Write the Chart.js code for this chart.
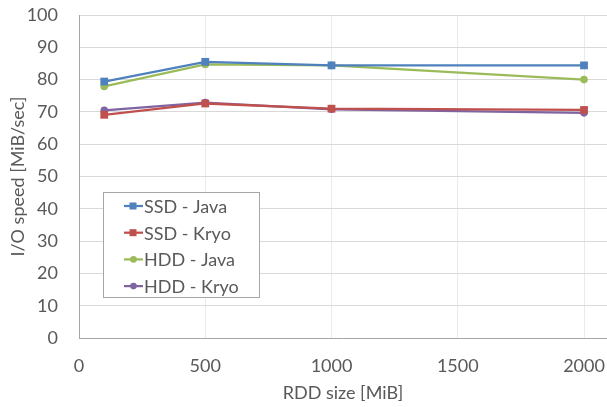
<!DOCTYPE html>
<html>
<head>
<meta charset="utf-8">
<script src="https://cdn.jsdelivr.net/npm/chart.js@4.4.1/dist/chart.umd.min.js"></script>
<style>
    html, body { margin: 0; padding: 0; background: #fff; }
    #wrap { width: 607px; height: 407px; }
</style>
</head>
<body>
<div id="wrap"><canvas id="chart"></canvas></div>
<script>
// RDD sizes (MiB) and measured I/O speeds (MiB/sec)
const rddSizes = [100, 500, 1000, 2000];
const ssdJava = [79.4, 85.5, 84.4, 84.4];
const ssdKryo = [69.1, 72.6, 71.0, 70.6];
const hddJava = [77.9, 84.7, 84.4, 80.0];
const hddKryo = [70.5, 72.9, 70.8, 69.7];
const seriesNames = ['SSD - Java', 'SSD - Kryo', 'HDD - Java', 'HDD - Kryo'];
const xTicks = [0, 500, 1000, 1500, 2000];

const FONT = 'Lato, "Open Sans", sans-serif';
const TEXT = '#595959';

const toPoints = (values) => values.map((v, i) => ({ x: rddSizes[i], y: v }));

const makeSet = (label, values, color, style) => ({
    label,
    data: toPoints(values),
    borderColor: color,
    backgroundColor: color,
    pointBackgroundColor: color,
    pointBorderColor: color,
    pointStyle: style,
    pointRadius: style === 'rect' ? 5.5 : 3.8,
    pointBorderWidth: 0,
    borderWidth: 2.25,
    tension: 0,
    fill: false,
    clip: false,
});

// Legend drawn inside the plot, like the boxed Excel legend
const insideLegend = {
    id: 'insideLegend',
    afterDraw: (chart) => {
        const ctx = chart.ctx;
        const x0 = 103, y0 = 192, w = 156, h = 105;
        ctx.save();
        ctx.fillStyle = '#fff';
        ctx.fillRect(x0, y0, w, h);
        ctx.strokeStyle = '#A6A6A6';
        ctx.lineWidth = 1;
        ctx.strokeRect(x0 + 0.5, y0 + 0.5, w, h);

        ctx.font = '18px ' + FONT;
        ctx.textBaseline = 'middle';
        ctx.textAlign = 'left';
        chart.data.datasets.forEach((ds, i) => {
            const y = 206 + i * 26.7;
            ctx.strokeStyle = ds.borderColor;
            ctx.lineWidth = 2.25;
            ctx.beginPath();
            ctx.moveTo(124, y);
            ctx.lineTo(143, y);
            ctx.stroke();
            ctx.fillStyle = ds.borderColor;
            if (ds.pointStyle === 'rect') {
                ctx.fillRect(129.5, y - 3.5, 7, 7);
            } else {
                ctx.beginPath();
                ctx.arc(133.5, y, 3.3, 0, Math.PI * 2);
                ctx.fill();
            }
            ctx.fillStyle = TEXT;
            ctx.fillText(ds.label, 144, y + 1);
        });
        ctx.restore();
    },
};

new Chart(document.getElementById('chart'), {
    type: 'line',
    data: {
        datasets: [
            makeSet(seriesNames[0], ssdJava, '#4F81BD', 'rect'),
            makeSet(seriesNames[1], ssdKryo, '#C0504D', 'rect'),
            makeSet(seriesNames[2], hddJava, '#9BBB59', 'circle'),
            makeSet(seriesNames[3], hddKryo, '#8064A2', 'circle'),
        ],
    },
    options: {
        responsive: true,
        maintainAspectRatio: false,
        animation: false,
        layout: {
            autoPadding: false,
            padding: { top: 15, right: 0, bottom: 0, left: 0 },
        },
        plugins: {
            legend: { display: false },
            tooltip: { enabled: false },
        },
        scales: {
            x: {
                type: 'linear',
                min: 0,
                max: 2091,
                afterBuildTicks: (scale) => {
                    scale.ticks = xTicks.map((v) => ({ value: v }));
                },
                afterFit: (scale) => {
                    scale.height = 69;
                    scale.paddingLeft = 0;
                    scale.paddingRight = 0;
                },
                grid: { color: '#EBEBEB', drawTicks: false, lineWidth: 1 },
                border: { color: '#A6A6A6', width: 1 },
                ticks: {
                    padding: 17,
                    color: TEXT,
                    font: { family: FONT, size: 18 },
                    maxRotation: 0,
                    autoSkip: false,
                    callback: (value) => String(value),
                },
                title: {
                    display: true,
                    text: 'RDD size [MiB]',
                    color: TEXT,
                    font: { family: FONT, size: 18 },
                    padding: { top: 0, bottom: 3 },
                },
            },
            y: {
                min: 0,
                max: 100,
                afterFit: (scale) => {
                    scale.width = 79;
                    scale.paddingTop = 0;
                    scale.paddingBottom = 0;
                },
                grid: { color: '#D9D9D9', drawTicks: false, lineWidth: 1 },
                border: { color: '#A6A6A6', width: 1 },
                ticks: {
                    stepSize: 10,
                    padding: 21,
                    color: TEXT,
                    font: { family: FONT, size: 18 },
                },
                title: {
                    display: true,
                    text: 'I/O speed [MiB/sec]',
                    color: TEXT,
                    font: { family: FONT, size: 18 },
                    padding: { top: 7, bottom: 0 },
                },
            },
        },
    },
    plugins: [insideLegend],
});
</script>
</body>
</html>
